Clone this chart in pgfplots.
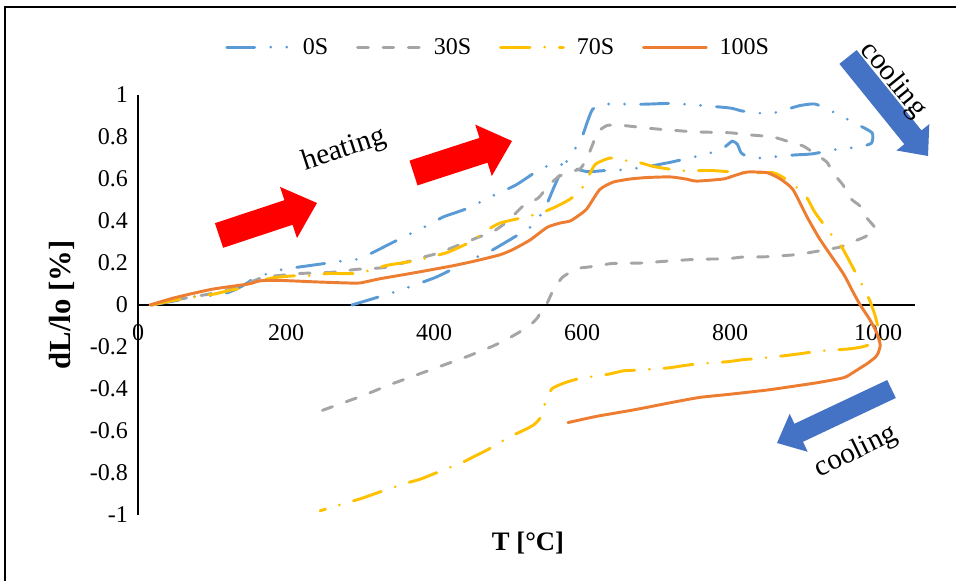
\documentclass[border=0pt]{standalone}
\usepackage{fontspec}
\setmainfont{Liberation Serif}
\usepackage{pgfplots}
\pgfplotsset{compat=1.18}

\definecolor{c0}{HTML}{5B9BD5}
\definecolor{c30}{HTML}{A5A5A5}
\definecolor{c70}{HTML}{FFC000}
\definecolor{c100}{HTML}{ED7D31}
\definecolor{arrowblue}{HTML}{4472C4}

\begin{document}
\begin{tikzpicture}
\useasboundingbox (0,0) rectangle (717pt,435.75pt);
\begin{axis}[
    at={(103.5pt,49.5pt)}, anchor=south west,
    scale only axis, width=582.75pt, height=315pt,
    xmin=0, xmax=1050, ymin=-1, ymax=1,
    axis x line=middle, axis y line=left,
    axis line style={-, line width=1.6pt},
    xtick={0,200,400,600,800,1000},
    ytick={-1,-0.8,-0.6,-0.4,-0.2,0,0.2,0.4,0.6,0.8,1},
    major tick length=0pt,
    /pgf/number format/assume math mode=true,
    /pgf/number format/1000 sep={},
    tick label style={font=\fontsize{18}{21}\selectfont},
    xticklabel style={yshift=-11pt},
    yticklabel style={xshift=-4pt},
    every axis x label/.style={at={(axis description cs:0.502,-0.03)}, anchor=north},
    every axis y label/.style={at={(axis description cs:-0.098,0.5)}, rotate=90, anchor=center},
    xlabel={\fontsize{20}{24}\selectfont\bfseries T [°C]},
    ylabel={\fontsize{23}{27}\selectfont\bfseries dL/lo [\%]},
    legend style={draw=none, fill=none, at={(axis description cs:0.112,1.114)}, anchor=west,
        font=\fontsize{18}{21}\selectfont, inner sep=0pt,
        /tikz/every even column/.append style={column sep=19pt}},
    legend columns=4,
    legend image code/.code={\draw[#1] (0pt,0pt) -- (47pt,0pt); \path (54pt,0pt);},
    every axis plot/.append style={line width=2.2pt, line cap=round, smooth, tension=0.35},
]
% 0S
\addplot[c0, dash pattern=on 21pt off 12pt on 0pt off 12pt on 0pt off 12pt] coordinates {
(18,0)(50,0.02)(77,0.04)(101,0.045)(122,0.06)(138,0.085)(150,0.11)(158,0.13)(176,0.15)
(196,0.17)(216,0.18)(257,0.20)(277,0.21)(299,0.22)(323,0.26)(351,0.31)(392,0.38)(413,0.42)
(445,0.46)(485,0.53)(510,0.57)(536,0.63)(550,0.657)(565,0.675)(585,0.655)(607,0.635)(630,0.64)
(660,0.645)(690,0.66)(720,0.68)(745,0.70)(770,0.72)(790,0.745)(803,0.78)(810,0.765)(815,0.725)
(825,0.705)(845,0.70)(870,0.71)(890,0.715)(912,0.72)(950,0.745)(971,0.75)(991,0.77)
(992,0.82)(972,0.86)(953,0.895)(936,0.925)(915,0.957)(895,0.95)(875,0.93)(858,0.914)
(838,0.914)(816,0.924)(800,0.938)(755,0.952)(720,0.96)(683,0.956)(650,0.957)(625,0.955)
(614,0.93)(608,0.88)(600,0.80)(590,0.74)(575,0.66)(562,0.56)(550,0.46)(542,0.42)(530,0.37)
(507,0.32)(478,0.26)(459,0.23)(430,0.18)(401,0.13)(345,0.06)(289,0.0)
};
% 30S
\addplot[c30, dash pattern=on 8pt off 11pt] coordinates {
(18,0)(60,0.03)(100,0.055)(140,0.09)(168,0.13)(219,0.15)(260,0.155)(296,0.17)(336,0.18)
(388,0.23)(408,0.25)(458,0.32)(480,0.35)(500,0.40)(520,0.47)(541,0.51)(555,0.57)(568,0.61)
(580,0.63)(598,0.65)(608,0.71)(615,0.77)(620,0.82)(634,0.855)(655,0.855)(695,0.84)(750,0.825)
(800,0.82)(827,0.81)(858,0.80)(881,0.776)(899,0.757)(915,0.72)(931,0.68)(939,0.63)(953,0.57)
(962,0.51)(976,0.47)(985,0.414)(997,0.36)
(982,0.324)(965,0.30)(949,0.276)(908,0.25)(890,0.24)(851,0.23)(816,0.228)(796,0.22)(757,0.218)
(719,0.21)(681,0.20)(642,0.198)(627,0.19)(607,0.18)(597,0.176)(586,0.16)(573,0.13)(561,0.07)
(553,0.01)(546,-0.02)(540,-0.06)(530,-0.095)(515,-0.13)(500,-0.16)(480,-0.195)(445,-0.245)
(410,-0.29)(375,-0.335)(340,-0.38)(305,-0.43)(270,-0.475)(235,-0.52)
};
% 70S
\addplot[c70, dash pattern=on 22pt off 11pt on 0pt off 11pt] coordinates {
(18,0)(60,0.03)(100,0.05)(124,0.07)(138,0.08)(160,0.11)(183,0.13)(215,0.14)(236,0.14)
(257,0.15)(296,0.15)(317,0.17)(338,0.19)(374,0.21)(396,0.23)(418,0.25)(449,0.30)(469,0.35)
(489,0.39)(525,0.42)(546,0.44)(566,0.47)(582,0.50)(597,0.54)(607,0.60)(618,0.67)(638,0.70)
(654,0.69)(676,0.68)(696,0.66)(732,0.64)(755,0.64)(777,0.64)(818,0.63)(858,0.63)(875,0.60)
(890,0.56)(904,0.51)(915,0.44)(938,0.33)(951,0.276)(962,0.205)(980,0.086)(989,0.02)(996,-0.05)
(1001,-0.12)(1003,-0.17)
(978,-0.20)(958,-0.21)(919,-0.22)(899,-0.23)(877,-0.24)(838,-0.255)(818,-0.26)(797,-0.27)
(757,-0.28)(735,-0.29)(715,-0.30)(674,-0.31)(655,-0.314)(635,-0.33)(597,-0.35)(577,-0.37)
(559,-0.40)(550,-0.47)(543,-0.54)(535,-0.57)(525,-0.59)(507,-0.62)(489,-0.655)(472,-0.69)
(455,-0.72)(438,-0.75)(399,-0.805)(381,-0.83)(361,-0.85)(323,-0.895)(303,-0.92)(284,-0.94)(246,-0.98)
};
% 100S
\addplot[c100] coordinates {
(16,0)(50,0.035)(100,0.075)(149,0.10)(165,0.115)(192,0.117)(240,0.11)(282,0.105)(300,0.105)
(327,0.125)(360,0.145)(395,0.167)(430,0.19)(462,0.215)(490,0.24)(507,0.265)(530,0.31)
(553,0.37)(570,0.39)(584,0.40)(597,0.43)(607,0.46)(624,0.55)(642,0.585)(665,0.60)(688,0.607)
(719,0.61)(740,0.60)(755,0.59)(791,0.60)(805,0.615)(823,0.633)(850,0.63)(868,0.60)(885,0.55)
(904,0.42)(922,0.31)(953,0.15)(965,0.07)(976,0.0)(989,-0.07)(998,-0.13)(1003,-0.19)(1000,-0.23)
(996,-0.25)(985,-0.28)(976,-0.30)(958,-0.34)(949,-0.35)(918,-0.37)(880,-0.39)(850,-0.405)
(800,-0.425)(759,-0.44)(720,-0.465)(669,-0.50)(620,-0.53)(581,-0.56)
};
\legend{0S,30S,70S,100S}
\end{axis}
\begin{scope}[x=0.75pt, y=-0.75pt, yshift=435.75pt]
\draw[line width=1.2pt] (5,700) -- (5,7) -- (1100,7);
% tick label at the origin, which axis x line=middle leaves out
\node[font=\fontsize{18}{21}\selectfont] at (138,333) {0};
% heating arrows
\fill[red] (214.9,223.2) -- (284.4,200.2) -- (280,186.9) -- (317,203) -- (297,238.1) -- (292.6,224.8) -- (223.1,247.8) -- cycle;
\fill[red] (409.5,160.6) -- (479.5,137.9) -- (475.2,124.6) -- (512,141) -- (491.8,176) -- (487.5,162.7) -- (417.5,185.4) -- cycle;
% cooling arrows
\fill[arrowblue] (839.4,63.9) -- (904.3,144.2) -- (896.5,150.5) -- (928,156) -- (929.3,124.1) -- (921.5,130.4) -- (856.6,50.1) -- cycle;
\fill[arrowblue] (887.2,380) -- (794.4,423.8) -- (789.7,413.8) -- (777,443) -- (807.7,451.8) -- (803,441.8) -- (895.8,398) -- cycle;
\node[rotate=18, font=\fontsize{22}{26}\selectfont] at (344,150) {heating};
\node[rotate=-51, font=\fontsize{22}{26}\selectfont] at (893,80) {cooling};
\node[rotate=26, font=\fontsize{22}{26}\selectfont] at (856,452) {cooling};
\end{scope}
\end{tikzpicture}
\end{document}
